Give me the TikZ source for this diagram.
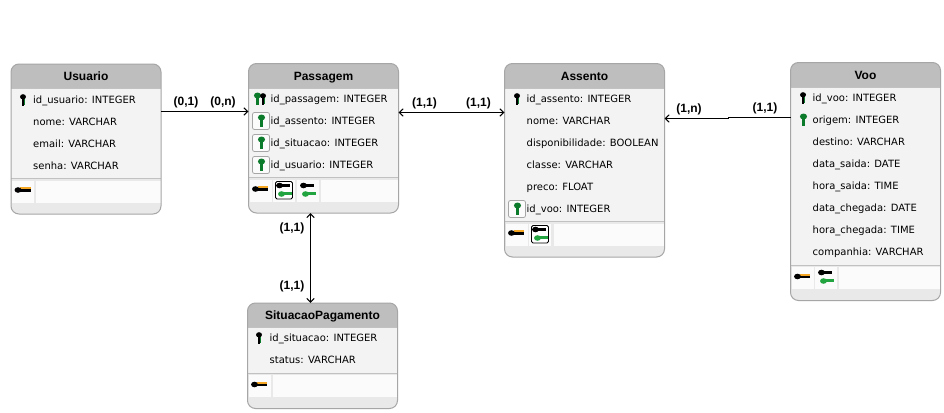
\documentclass[tikz,border=0pt]{standalone}
\usepackage{fontspec}
\usetikzlibrary{arrows.meta}
\setmainfont{Liberation Sans}
\newfontfamily\rowfont{DejaVu Sans}
\definecolor{headgray}{HTML}{BEBEBE}
\definecolor{bodygray}{HTML}{F3F3F3}
\definecolor{footgray}{HTML}{E9E9E9}
\definecolor{cellgray}{HTML}{FBFBFB}
\definecolor{linegray}{HTML}{A6A6A6}
\definecolor{fkgreen}{HTML}{0B7A2B}
\definecolor{lightgreen}{HTML}{22A540}
\definecolor{keyorange}{HTML}{F5A623}
\tikzset{
	>={Straight Barb[length=4pt,width=7.5pt]},
	tablenode/.style={draw=linegray,line width=1pt,fill=bodygray,rounded corners=8pt,inner sep=0pt,outer sep=0pt},
	rowtext/.style={anchor=base west,inner sep=0pt,yshift=-3.5pt,font=\rowfont\fontsize{10}{12}\selectfont},
	titletext/.style={anchor=base,inner sep=0pt,yshift=-4.2pt,font=\bfseries\fontsize{12}{14}\selectfont},
	cardtext/.style={inner sep=0pt,font=\bfseries\fontsize{12}{14}\selectfont},
	link/.style={line width=1pt},
	boxcell/.style={draw=linegray,line width=.8pt,fill=cellgray,rounded corners=2pt},
	pairbox/.style={draw=black,line width=.9pt,fill=white,rounded corners=1.5pt},
	pk/.pic={
		\fill[black] (0,-3.2) ellipse (3 and 2.6);
		\fill[black] (-1.3,-2) rectangle (1.3,5.5);
		\fill[fkgreen] (1.3,-1) rectangle (1.9,4.5);
	},
	fk/.pic={
		\fill[fkgreen] (0,-3.5) ellipse (3.6 and 3);
		\fill[fkgreen] (-1.4,-2) rectangle (1.4,6);
	},
	ownkey/.pic={
		\fill[keyorange] (-3,-3) rectangle (7.5,-.8);
		\fill[black] (-5,0) ellipse (3.4 and 2.8);
		\fill[black] (-3,-.8) rectangle (7.5,1.6);
	},
	topkey/.pic={
		\fill[black] (-3.5,0) ellipse (3.4 and 2.8);
		\fill[black] (-1,-1.6) rectangle (6.5,1.2);
	},
	lowkey/.pic={
		\fill[lightgreen] (-3.5,0) ellipse (3.4 and 2.8);
		\fill[lightgreen] (-1,-1.6) rectangle (6.5,1.2);
	}
}
\newcommand{\tablebox}[7]{
	\node[tablenode,minimum width=#4 pt-#2 pt,minimum height=#5 pt-#3 pt,
		path picture={
			\def\pb{path picture bounding box}
			\begin{scope}[sharp corners]
			\fill[headgray] (\pb.north west) rectangle ([yshift=-24pt]\pb.north east);
			\fill[linegray!70] ([yshift=-24pt]\pb.north west) rectangle ([yshift=-25pt]\pb.north east);
			\fill[footgray] ([yshift=36pt]\pb.south west) rectangle (\pb.south east);
			\fill[linegray!70] ([yshift=36pt]\pb.south west) rectangle ([yshift=35pt]\pb.south east);
			\fill[cellgray] ([xshift=1pt,yshift=33.5pt]\pb.south west) rectangle ([xshift=23pt,yshift=11.5pt]\pb.south west);
			\fill[cellgray] ([xshift=#6 pt,yshift=33.5pt]\pb.south west) rectangle ([yshift=11.5pt]\pb.south east);
			\end{scope}
		}] (#1) at ({(#2+#4)/2},{(#3+#5)/2}) {};
	\node[titletext] (#1title) at ({(#2+#4)/2},#3+12.5) {#7};
	\pic at (#2+12,#5-24) {ownkey};
}
\begin{document}
\begin{tikzpicture}[x=1pt,y=-1pt]
\useasboundingbox (0,0) rectangle (944,412);
\fill[white] (0,0) rectangle (944,412);

\tablebox{usuario}{11}{64}{161}{214}{25}{Usuario}
\pic at (23,100) {pk};
\node[rowtext] (usuario1) at (33,100) {id\_usuario: INTEGER};
\node[rowtext] (usuario2) at (33,122) {nome: VARCHAR};
\node[rowtext] (usuario3) at (33,144) {email: VARCHAR};
\node[rowtext] (usuario4) at (33,166) {senha: VARCHAR};

\tablebox{passagem}{248.5}{63.5}{398.5}{213}{72.5}{Passagem}
\pic at (257.5,99) {fk};
\pic at (263,99) {pk};
\draw[boxcell] (252.5,112.5) rectangle (269.5,129.5);
\pic at (261.5,121) {fk};
\draw[boxcell] (252.5,134.5) rectangle (269.5,151.5);
\pic at (261.5,143) {fk};
\draw[boxcell] (252.5,156.5) rectangle (269.5,173.5);
\pic at (261.5,165) {fk};
\node[rowtext] (passagem1) at (270.5,99) {id\_passagem: INTEGER};
\node[rowtext] (passagem2) at (270.5,121) {id\_assento: INTEGER};
\node[rowtext] (passagem3) at (270.5,143) {id\_situacao: INTEGER};
\node[rowtext] (passagem4) at (270.5,165) {id\_usuario: INTEGER};
\fill[cellgray] (273,179.5) rectangle (295,201.5);
\draw[pairbox] (275.5,181.5) rectangle (292.5,199);
\pic at (283,185.5) {topkey};
\pic at (285,194) {lowkey};
\fill[cellgray] (297,179.5) rectangle (319,201.5);
\pic at (307,185.5) {topkey};
\pic at (309,194) {lowkey};

\tablebox{assento}{504.5}{63.5}{664.5}{257}{49}{Assento}
\pic at (517,99) {pk};
\draw[boxcell] (508.5,200.5) rectangle (525.5,217.5);
\pic at (517.5,209) {fk};
\node[rowtext] (assento1) at (526.5,99) {id\_assento: INTEGER};
\node[rowtext] (assento2) at (526.5,121) {nome: VARCHAR};
\node[rowtext] (assento3) at (526.5,143) {disponibilidade: BOOLEAN};
\node[rowtext] (assento4) at (526.5,165) {classe: VARCHAR};
\node[rowtext] (assento5) at (526.5,187) {preco: FLOAT};
\node[rowtext] (assento6) at (526.5,209) {id\_voo: INTEGER};
\fill[cellgray] (529,223.5) rectangle (551,245.5);
\draw[pairbox] (531.5,225.5) rectangle (548.5,243);
\pic at (539,229.5) {topkey};
\pic at (541,238) {lowkey};

\tablebox{voo}{790.5}{62.5}{940.5}{300.5}{48}{Voo}
\pic at (803,98) {pk};
\pic at (803.5,120) {fk};
\node[rowtext] (voo1) at (812.5,98) {id\_voo: INTEGER};
\node[rowtext] (voo2) at (812.5,120) {origem: INTEGER};
\node[rowtext] (voo3) at (812.5,142) {destino: VARCHAR};
\node[rowtext] (voo4) at (812.5,164) {data\_saida: DATE};
\node[rowtext] (voo5) at (812.5,186) {hora\_saida: TIME};
\node[rowtext] (voo6) at (812.5,208) {data\_chegada: DATE};
\node[rowtext] (voo7) at (812.5,230) {hora\_chegada: TIME};
\node[rowtext] (voo8) at (812.5,252) {companhia: VARCHAR};
\fill[cellgray] (815,266.5) rectangle (837,288.5);
\pic at (825,272.5) {topkey};
\pic at (827,281) {lowkey};

\tablebox{situacao}{247.5}{303}{397.5}{408.5}{25}{SituacaoPagamento}
\pic at (259,338) {pk};
\node[rowtext] (situacao1) at (269.5,338) {id\_situacao: INTEGER};
\node[rowtext] (situacao2) at (269.5,360) {status: VARCHAR};

\draw[link,->] (usuario.east |- 0,111.5) -- (passagem.west |- 0,111.5);
\draw[link,<->] (passagem.east |- 0,112.5) -- (assento.west |- 0,112.5);
\draw[link,->] (voo.west |- 0,117.5) -- (728,117.5) -- (728,118.5) -- (assento.east |- 0,118.5);
\draw[link,<->] (situacao.north -| 310.5,0) -- (passagem.south -| 310.5,0);

\node[cardtext] (card1) at (186,102.5) {(0,1)};
\node[cardtext] (card2) at (223,102.5) {(0,n)};
\node[cardtext] (card3) at (424.5,103) {(1,1)};
\node[cardtext] (card4) at (478.5,103) {(1,1)};
\node[cardtext] (card5) at (689,109) {(1,n)};
\node[cardtext] (card6) at (765,108) {(1,1)};
\node[cardtext] (card7) at (292,228) {(1,1)};
\node[cardtext] (card8) at (292,286) {(1,1)};
\end{tikzpicture}
\end{document}
